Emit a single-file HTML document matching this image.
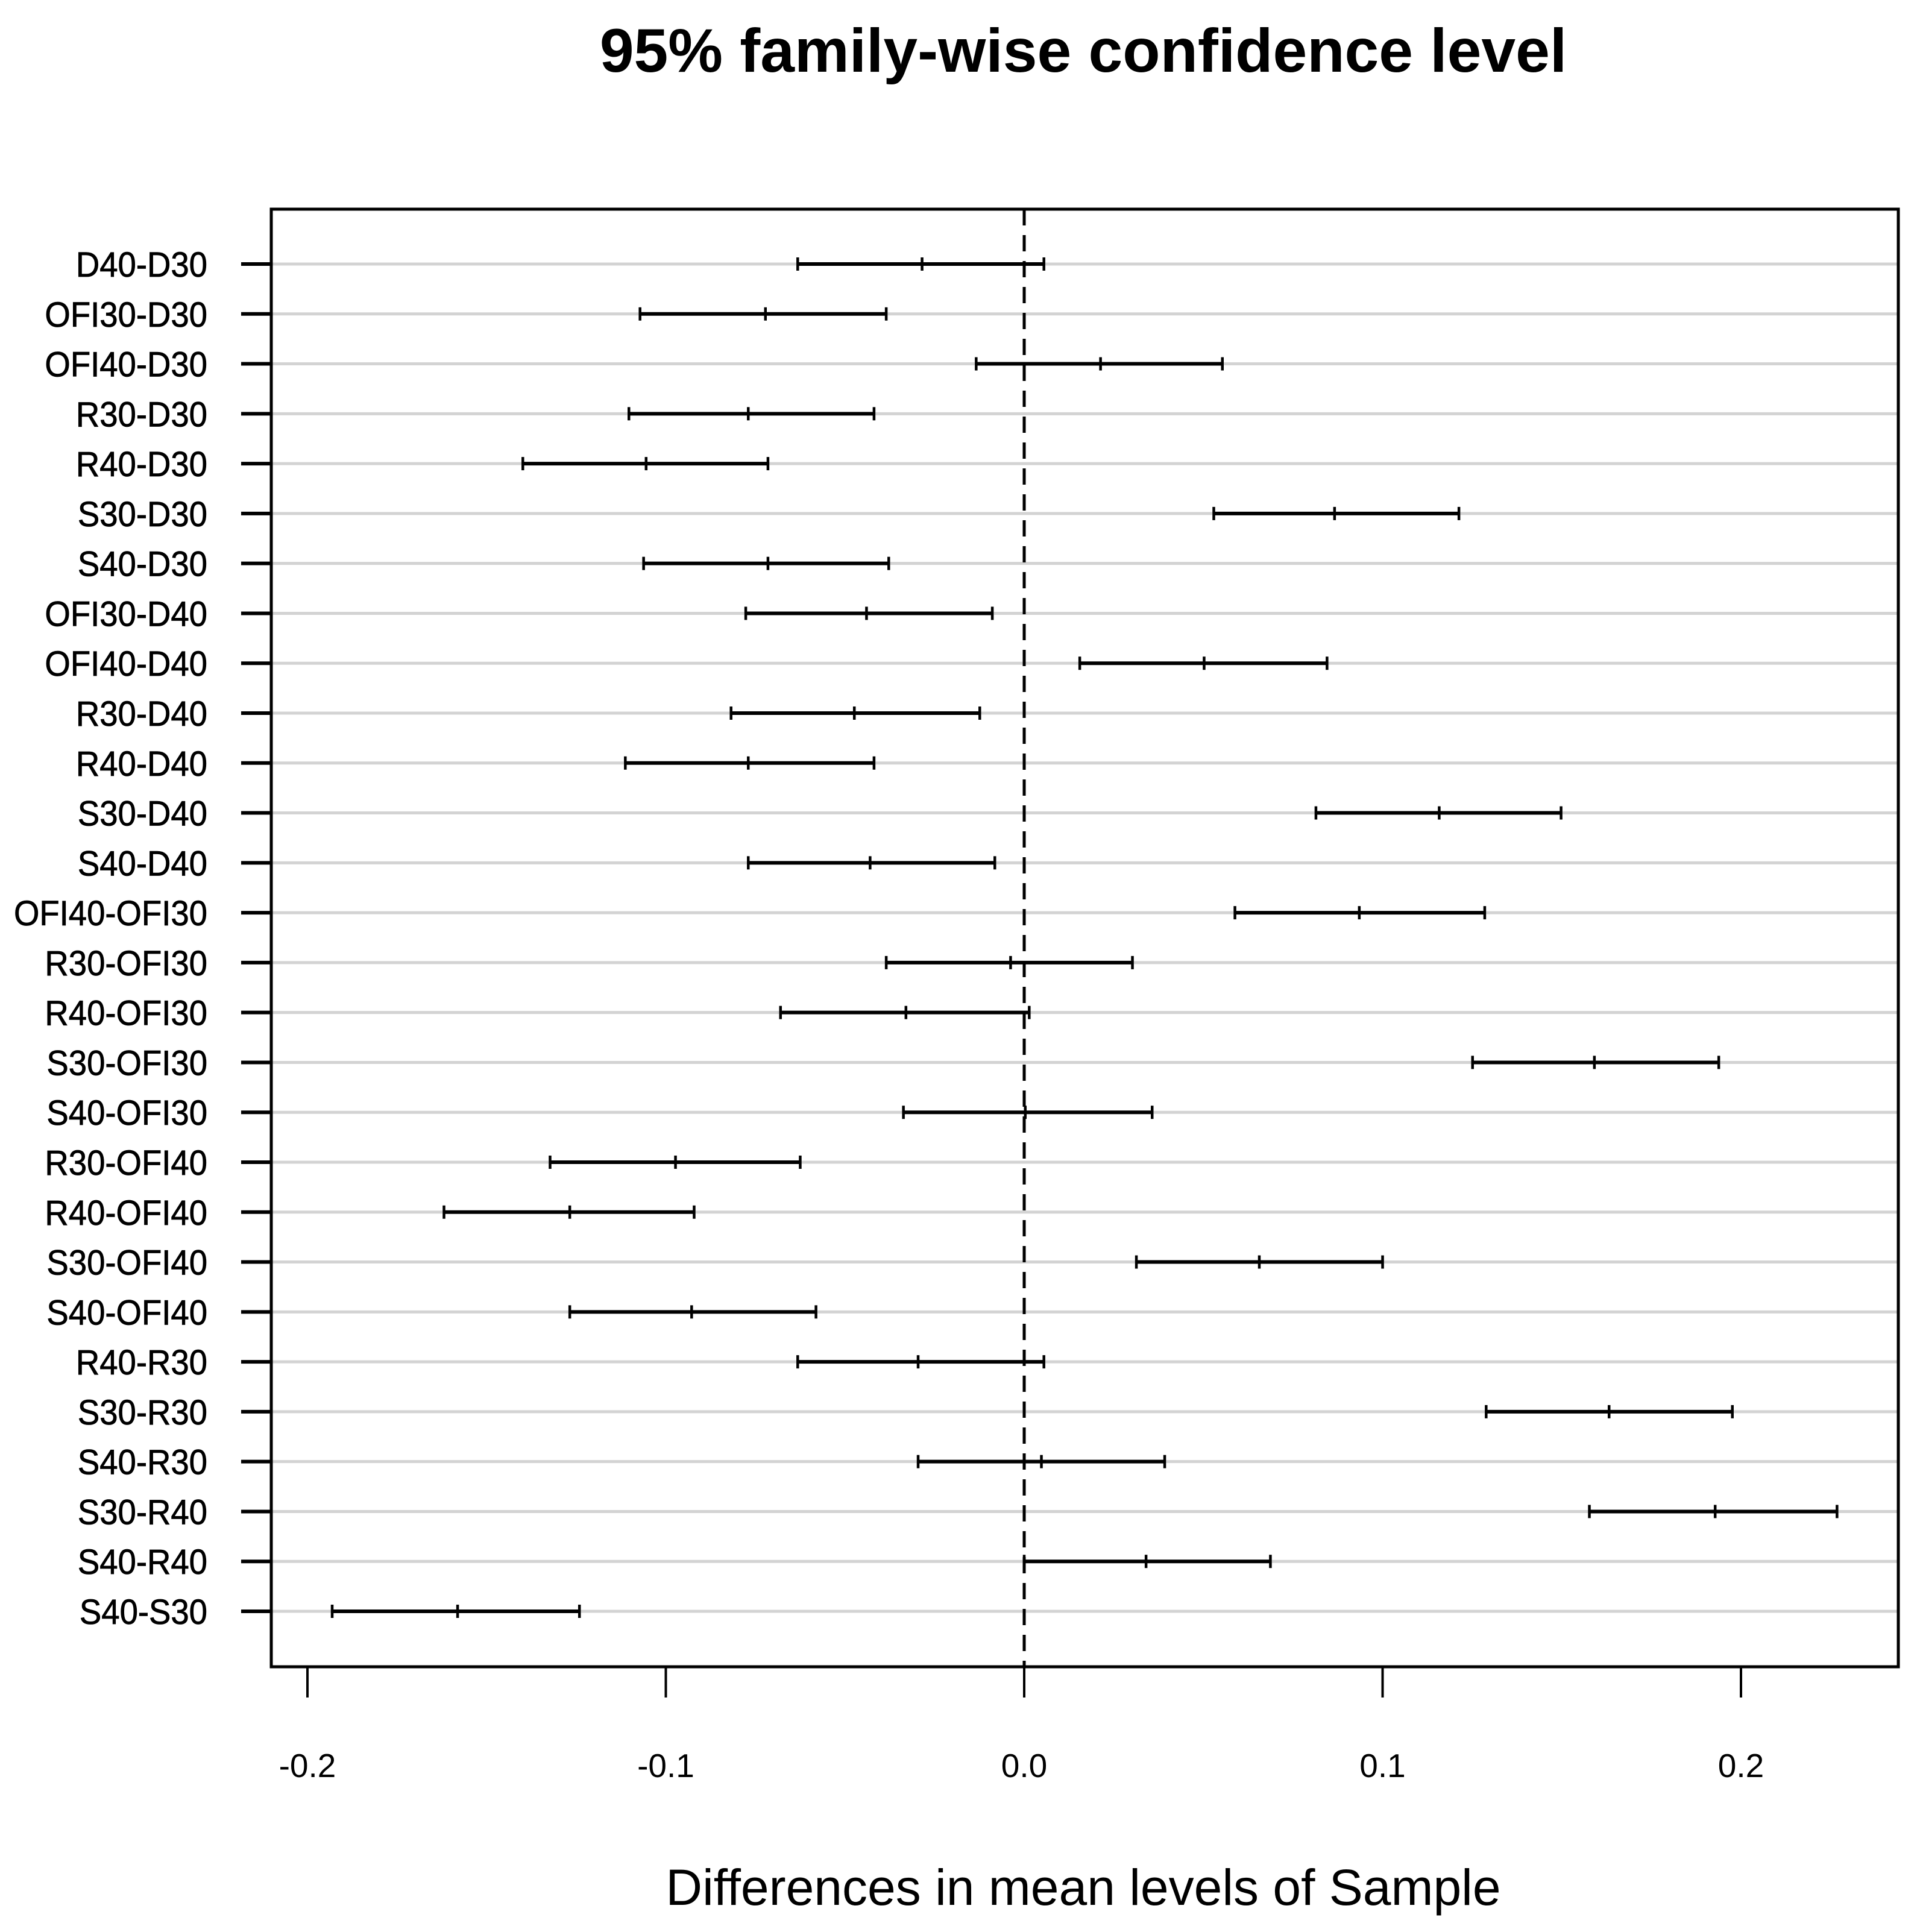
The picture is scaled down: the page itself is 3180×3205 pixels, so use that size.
<!DOCTYPE html>
<html><head><meta charset="utf-8"><style>
html,body{margin:0;padding:0;background:#fff;}
svg{display:block;}
text{font-family:"Liberation Sans",Arial,sans-serif;fill:#000;}
</style></head><body>
<svg id="chart" width="3180" height="3205" viewBox="0 0 3180 3205" xmlns="http://www.w3.org/2000/svg">
<text x="1797" y="119" font-size="102" font-weight="bold" text-anchor="middle">95% family-wise confidence level</text>
<text x="1797" y="3160" font-size="84" text-anchor="middle">Differences in mean levels of Sample</text>
<g id="grid"></g>
<g id="marks"></g>
<g id="axes"></g>
</svg>
<script>
const categories = ["D40-D30","OFI30-D30","OFI40-D30","R30-D30","R40-D30","S30-D30","S40-D30","OFI30-D40","OFI40-D40","R30-D40","R40-D40","S30-D40","S40-D40","OFI40-OFI30","R30-OFI30","R40-OFI30","S30-OFI30","S40-OFI30","R30-OFI40","R40-OFI40","S30-OFI40","S40-OFI40","R40-R30","S30-R30","S40-R30","S30-R40","S40-R40","S40-S30"];
const lwr = [-0.0632,-0.1072,-0.0134,-0.1103,-0.1399,0.0529,-0.1062,-0.0777,0.0155,-0.0818,-0.1113,0.0814,-0.077,0.0588,-0.0385,-0.068,0.1251,-0.0337,-0.1323,-0.1619,0.0313,-0.1268,-0.0632,0.1289,-0.0296,0.1577,0.0,-0.1931];
const diff = [-0.0285,-0.0722,0.0213,-0.077,-0.1055,0.0866,-0.0715,-0.044,0.0502,-0.0474,-0.077,0.1158,-0.043,0.0935,-0.0038,-0.033,0.1591,0.0003,-0.0973,-0.1268,0.0656,-0.0928,-0.0296,0.1632,0.0048,0.1928,0.034,-0.1581];
const upr = [0.0055,-0.0385,0.0553,-0.0419,-0.0715,0.1213,-0.0378,-0.0089,0.0845,-0.0124,-0.0419,0.1498,-0.0082,0.1285,0.0302,0.0014,0.1938,0.0357,-0.0625,-0.0921,0.1,-0.0581,0.0055,0.1976,0.0392,0.2268,0.0687,-0.1241];
const xTicks = [-0.2,-0.1,0.0,0.1,0.2];
const xTickLabels = ["-0.2","-0.1","0.0","0.1","0.2"];

const NS="http://www.w3.org/2000/svg";
const L=450,R=3149,T=347,B=2765;
const X0=1699, PX=5945;
function xs(v){return X0+v*PX;}
function ys(i){return 438+i*(2673-438)/(categories.length-1);}
function mk(tag,attrs,parent){const e=document.createElementNS(NS,tag);for(const k in attrs)e.setAttribute(k,attrs[k]);parent.appendChild(e);return e;}
const grid=document.getElementById('grid'),marks=document.getElementById('marks'),axes=document.getElementById('axes');

categories.forEach((c,i)=>{
  const y=ys(i);
  const g=mk('line',{x1:L,x2:R,y1:y,y2:y,stroke:'#d3d3d3','stroke-width':5},grid);
  
  
  const tk=mk('line',{x1:400,x2:L,y1:y,y2:y,stroke:'#000','stroke-width':6},axes);
  
  
  const t=mk('text',{'font-size':58,'text-anchor':'end',transform:'translate(344,'+(y+21)+') scale(0.94,1)',stroke:'#000','stroke-width':0.8},axes);
  t.textContent=c;
  
  
});

const z=mk('line',{x1:xs(0),x2:xs(0),y1:T,y2:B,stroke:'#000','stroke-width':5,'stroke-dasharray':'27 16'},marks);



categories.forEach((c,i)=>{
  const y=ys(i);
  const g=mk('g',{},marks);
  
  
  mk('line',{x1:xs(lwr[i]),x2:xs(upr[i]),y1:y,y2:y,stroke:'#000','stroke-width':6},g);
  [lwr[i],diff[i],upr[i]].forEach(v=>{
    mk('line',{x1:xs(v),x2:xs(v),y1:y-11,y2:y+11,stroke:'#000','stroke-width':4.5},g);
  });
});

const box=mk('rect',{x:L,y:T,width:R-L,height:B-T,fill:'none',stroke:'#000','stroke-width':5},axes);



xTicks.forEach((v,i)=>{
  const tk=mk('line',{x1:xs(v),x2:xs(v),y1:B,y2:2816,stroke:'#000','stroke-width':4},axes);
  
  
  const t=mk('text',{x:xs(v),y:2948,'font-size':55,'text-anchor':'middle'},axes);
  t.textContent=xTickLabels[i];
  
  
});
</script>
</body></html>
